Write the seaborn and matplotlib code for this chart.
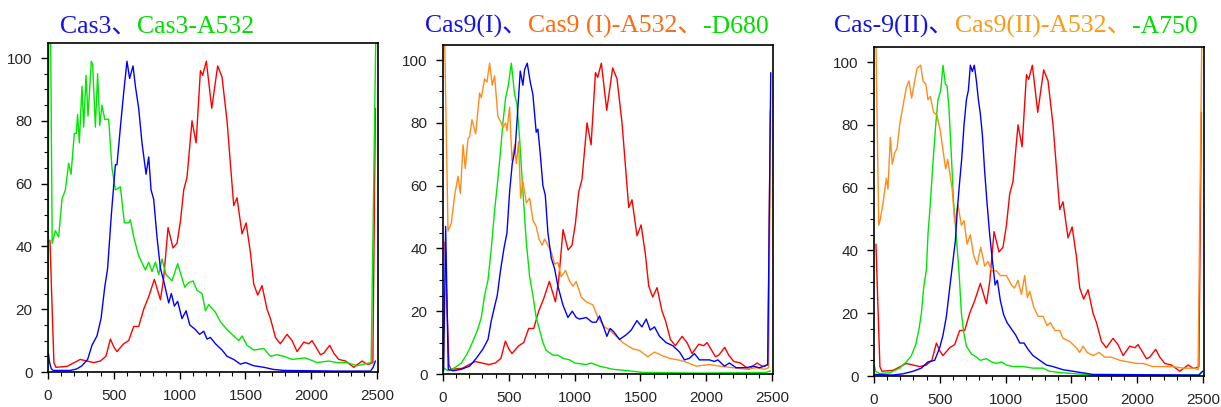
import matplotlib
matplotlib.use("Agg")
import matplotlib.pyplot as plt
from matplotlib.ticker import MultipleLocator
import seaborn as sns

# ---- data (x = channel, y = % of max) ----

# red reference histogram, the same in all three panels
red_x = [15, 30, 45, 60, 145, 245, 347, 398, 440, 474, 500, 524, 575, 613, 651, 689, 727, 765, 808,
         854, 879, 912, 950, 980, 1006, 1031, 1056, 1094, 1125, 1158, 1175, 1203, 1244, 1289, 1322,
         1360, 1411, 1436, 1474, 1505, 1538, 1563, 1593, 1626, 1664, 1690, 1728, 1765, 1816, 1854,
         1892, 1943, 1981, 2006, 2070, 2095, 2140, 2171, 2209, 2260, 2323, 2386, 2424, 2440, 2468, 2487]
red_y = [42, 22, 3, 1.5, 1.8, 4, 3, 3.5, 5, 10.5, 8, 6.5, 9, 10, 14.5, 14.5, 20, 24, 29.5,
         23, 30, 46, 39.5, 41, 48, 58, 62, 80, 73, 96, 94.5, 99, 84, 97.5, 94,
         80, 53, 55.5, 44, 47.5, 38, 28, 24.5, 27.5, 20, 17, 11, 9, 12, 10,
         6.5, 9.5, 9, 10, 5.5, 6, 8.5, 6, 4, 3.5, 1.5, 3.5, 2.5, 2.5, 3, 84]

# panel 1: Cas3 / Cas3-A532
p1_blue_x = [3, 12, 25, 40, 170, 220, 258, 301, 334, 372, 403, 431, 453, 481, 512, 524, 550, 575, 600,
             620, 646, 664, 689, 714, 745, 765, 783, 803, 828, 854, 879, 917, 937, 960, 985, 1018,
             1049, 1077, 1120, 1152, 1183, 1208, 1234, 1272, 1322, 1360, 1411, 1462, 1500, 1563,
             1639, 1715, 1791, 2171, 2450, 2470, 2487]
p1_blue_y = [6, 3, 1, 0.5, 0.5, 1, 2, 4, 8.5, 11.5, 17, 27, 33, 50, 66, 66, 78, 89, 99,
             93.5, 97.5, 91, 84, 73, 63, 68.5, 58, 55, 43, 33, 29, 22, 25, 21, 22.5, 17,
             19.5, 15, 13.5, 12, 13, 10.5, 11, 9, 7, 5, 4, 2.5, 3, 2,
             1.5, 0.8, 0.5, 0.3, 0.3, 1.5, 3.5]

p1_green_x = [0, 6, 20, 32, 56, 81, 106, 132, 157, 175, 200, 215, 225, 238, 258, 271, 289, 304, 329,
              339, 360, 377, 393, 410, 431, 461, 486, 512, 550, 580, 613, 626, 651, 689, 740, 765,
              790, 816, 841, 866, 897, 942, 985, 1039, 1069, 1102, 1132, 1170, 1196, 1221, 1272,
              1310, 1360, 1411, 1449, 1474, 1512, 1563, 1639, 1690, 1740, 1791, 1854, 1956, 2044,
              2133, 2196, 2272, 2348, 2399, 2455, 2490]
p1_green_y = [0.5, 106, 106, 41, 45, 43, 55, 58, 66.5, 63, 76, 76, 82, 73, 91, 78, 94.5, 81.5, 99,
              98, 78, 95, 78.5, 85, 80.5, 80.5, 65, 58, 59, 47.5, 47.5, 48.5, 43, 37, 32.5, 35,
              32, 35, 31, 36, 31, 29, 34.5, 27, 28.5, 29, 26, 25, 19.5, 21.5, 19,
              16, 13.5, 11.5, 10, 11.5, 8.5, 7, 7.5, 5, 5.5, 5, 4, 4.5, 3,
              3.5, 3, 3, 2, 2.5, 3, 106]

# panel 2: Cas9(I) / Cas9(I)-A532 / -D680
p2_blue_x = [5, 20, 40, 76, 139, 202, 253, 304, 342, 367, 392, 412, 437, 463, 486, 506, 526, 549, 569,
             587, 607, 620, 640, 663, 683, 708, 721, 739, 759, 777, 797, 822, 848, 873, 911, 949,
             982, 1012, 1037, 1088, 1133, 1164, 1189, 1220, 1245, 1270, 1296, 1341, 1392, 1430,
             1473, 1511, 1544, 1574, 1607, 1645, 1695, 1746, 1797, 1834, 1872, 1910, 1948, 2024,
             2062, 2088, 2138, 2176, 2227, 2302, 2353, 2403, 2441, 2467, 2490]
p2_blue_y = [1, 47, 1.5, 1, 1.5, 2.5, 5, 8, 11, 17, 21.5, 25, 33, 40, 45, 58, 67, 72, 85,
             96.5, 92, 97, 99, 93, 89, 77, 78, 70, 60, 57, 45, 37, 33.5, 28, 22, 18,
             20, 18, 17.5, 18, 16.5, 16.5, 18.5, 15, 12, 14.5, 13.5, 11, 12.5, 14,
             17, 15, 17.5, 14, 15, 12, 10, 9, 7, 4.5, 5, 6.5, 4.5, 4.5,
             4, 4.5, 2.5, 3.5, 2, 2, 2.5, 2, 2.5, 3, 96]

p2_orange_x = [3, 13, 38, 63, 89, 114, 132, 152, 169, 190, 202, 220, 248, 278, 291, 316, 334, 354,
               374, 392, 417, 437, 455, 476, 486, 506, 524, 544, 557, 574, 590, 607, 633, 658, 683,
               708, 729, 754, 772, 797, 822, 848, 873, 898, 931, 962, 987, 1012, 1050, 1088, 1139,
               1176, 1227, 1265, 1316, 1366, 1442, 1493, 1556, 1607, 1657, 1720, 1784, 1834, 1923,
               2024, 2100, 2201, 2302, 2378, 2441, 2474, 2488]
p2_orange_y = [106, 106, 45.5, 48, 57, 63, 57.5, 73, 65.5, 75, 75.5, 81, 76.5, 89.5, 88, 94, 93, 99,
               92, 95, 82, 80.5, 78.5, 80, 77.5, 85, 68, 73, 67, 74, 56, 61.5, 54.5, 56, 49,
               47, 43, 41, 43, 41, 39, 35, 35.5, 31, 33, 29.5, 28, 29.5, 24.5, 23, 22,
               18, 15, 14, 12, 10, 8, 7.5, 5.5, 7, 6, 5, 4.5, 4, 2.5,
               3, 2.5, 2, 1.5, 2, 1.5, 2, 79]

p2_green_x = [3, 38, 89, 139, 177, 202, 233, 266, 291, 316, 342, 367, 392, 412, 435, 455, 476, 496,
              519, 544, 562, 582, 607, 633, 658, 683, 708, 734, 759, 784, 835, 873, 911, 962, 1000,
              1088, 1126, 1189, 1291, 1417, 1518, 1948, 2454, 2488]
p2_green_y = [2, 1, 2, 3.5, 6, 8, 11, 14.5, 18, 25, 30, 40, 52, 60, 70, 80, 88, 92,
              99, 89, 86, 75, 58, 42, 31, 25, 18, 14, 10, 7.5, 6, 6, 5, 4.5, 3.5,
              3, 3.5, 2.5, 1.5, 1, 0.5, 0.3, 0.5, 1]

# panel 3: Cas-9(II) / Cas9(II)-A532 / -A750
p3_blue_x = [10, 144, 220, 296, 360, 410, 461, 499, 524, 550, 575, 595, 618, 633, 651, 666, 684, 702,
             717, 732, 747, 762, 778, 793, 808, 823, 841, 859, 879, 899, 920, 937, 960, 985, 1011,
             1044, 1077, 1107, 1140, 1170, 1208, 1259, 1310, 1360, 1436, 1512, 1588, 1664, 2470, 2496]
p3_blue_y = [0.5, 0.3, 0.7, 1.5, 2.5, 4.5, 5, 9, 13, 19, 28, 35, 43, 53, 62, 69, 80, 88,
             91, 99, 97, 99, 94, 88, 83.5, 77, 65, 55, 45, 37, 29, 30.5, 24, 19.5, 17,
             15, 13, 10.5, 10.5, 8.5, 6.5, 5, 3.5, 3, 2, 1.5, 1, 0.5, 0.3, 1.5]

p3_orange_x = [3, 15, 36, 48, 68, 94, 106, 124, 139, 157, 175, 195, 220, 246, 266, 286, 309, 327,
               355, 372, 393, 410, 428, 453, 479, 504, 524, 544, 560, 575, 595, 613, 638, 664, 684,
               707, 732, 757, 783, 811, 841, 866, 892, 930, 960, 1006, 1044, 1067, 1094, 1120,
               1145, 1165, 1183, 1213, 1246, 1284, 1315, 1340, 1373, 1411, 1436, 1487, 1537, 1563,
               1588, 1619, 1664, 1710, 1753, 1803, 1867, 1930, 1994, 2044, 2120, 2196, 2272, 2348,
               2437, 2462, 2490]
p3_orange_y = [106, 106, 48, 50, 55, 63, 59.5, 76, 67.5, 71, 72.5, 80, 86, 92, 94, 88.5, 94, 98,
               99, 94, 93, 88, 89, 84, 83, 78, 72, 66, 69, 65, 59, 49, 54.5, 48, 49.5,
               42, 45, 38.5, 35.5, 41, 35, 36.5, 33.5, 33.5, 32, 32, 29, 28, 30.5, 26,
               32, 25, 27, 22, 19, 19, 16, 17, 14.5, 14.5, 12, 11, 9, 7.5,
               9.5, 7.5, 6.5, 7.5, 6, 6, 5, 4.5, 4, 4, 3, 3, 3, 2.5,
               2.5, 2, 106]

p3_green_x = [5, 13, 43, 119, 195, 246, 284, 317, 342, 360, 377, 398, 410, 428, 448, 469, 486, 507,
              524, 542, 555, 570, 588, 605, 626, 646, 664, 681, 702, 740, 778, 808, 854, 892, 930,
              968, 1006, 1056, 1133, 1208, 1284, 1335, 1436, 1537, 1664, 2044, 2462, 2496]
p3_green_y = [3, 1.5, 0.8, 1, 2.5, 4.5, 6.5, 10, 15, 20, 28, 34, 45, 55, 68, 80, 88, 91,
              99, 93, 92.5, 85, 70, 55, 44, 33, 20, 14, 9.5, 7, 6, 5, 5.5, 4.5, 4,
              4.5, 3.5, 3, 3, 2.5, 2.5, 1.5, 1, 0.7, 0.3, 0.3, 0.3, 1.5]

x_ticks = [0, 500, 1000, 1500, 2000, 2500]
y_ticks = [0, 20, 40, 60, 80, 100]

# ---- colours ----
BLUE = "#0000ff"
GREEN = "#00e600"
RED = "#ff0000"
ORANGE = "#ff8c1a"

titles = [
    [("Cas3、", "#1414e6"), ("Cas3-A532", "#00dd00")],
    [("Cas9(I)、", "#1414e6"), ("Cas9 (I)-A532、", "#ff6a10"), ("-D680", "#00dd00")],
    [("Cas-9(II)、", "#1414e6"), ("Cas9(II)-A532、", "#ff9a10"), ("-A750", "#00dd00")],
]
title_centers_px = [157, 597, 1016]

panels = [
    [(p1_green_x, p1_green_y, GREEN), (p1_blue_x, p1_blue_y, BLUE)],
    [(p2_green_x, p2_green_y, GREEN), (p2_orange_x, p2_orange_y, ORANGE), (p2_blue_x, p2_blue_y, BLUE)],
    [(p3_green_x, p3_green_y, GREEN), (p3_orange_x, p3_orange_y, ORANGE), (p3_blue_x, p3_blue_y, BLUE)],
]

sns.set_style("ticks")
plt.rcParams['font.family'] = ['Liberation Sans', 'DejaVu Sans']

W, H = 1221, 407
fig = plt.figure(figsize=(W / 100, H / 100), dpi=100)

# axes boxes in pixels: left, top, right, bottom
boxes = [(48, 43, 378, 372), (443, 45, 773, 374), (874, 47, 1204, 376)]

for (l, t, r, b), series in zip(boxes, panels):
    ax = fig.add_axes([l / W, 1 - b / H, (r - l) / W, (b - t) / H])
    sns.lineplot(x=red_x, y=red_y, ax=ax, color=RED, linewidth=1.0, estimator=None)
    for xs, ys, c in series:
        sns.lineplot(x=xs, y=ys, ax=ax, color=c, linewidth=1.0, estimator=None)
    ax.set_xlim(0, 2507)
    ax.set_ylim(0, 104.8)
    ax.set_xticks(x_ticks)
    ax.set_yticks(y_ticks)
    ax.xaxis.set_minor_locator(MultipleLocator(100))
    ax.yaxis.set_minor_locator(MultipleLocator(5))
    ax.tick_params(which='major', direction='out', length=5, width=1, labelsize=11, color='black')
    ax.tick_params(which='minor', direction='out', length=3, width=0.8, color='black')
    ax.tick_params(axis='x', which='major', pad=7)
    ax.tick_params(axis='y', which='major', pad=6)
    for sp in ax.spines.values():
        sp.set_visible(True)
        sp.set_color('black')
        sp.set_linewidth(1.2)
    ax.set_xlabel("")
    ax.set_ylabel("")

# multi-coloured titles, laid out piece by piece
renderer = fig.canvas.get_renderer()
title_font = ['Liberation Serif', 'Noto Sans CJK JP']
for parts, cx in zip(titles, title_centers_px):
    texts = []
    widths = []
    for s, c in parts:
        t = fig.text(0, 1 - 33 / H, s, color=c, fontsize=18.5, family=title_font, va='baseline', ha='left')
        texts.append(t)
        widths.append(t.get_window_extent(renderer).width)
    x = cx - sum(widths) / 2
    for t, w in zip(texts, widths):
        t.set_x(x / W)
        x += w

fig.savefig("out.png", dpi=100)
